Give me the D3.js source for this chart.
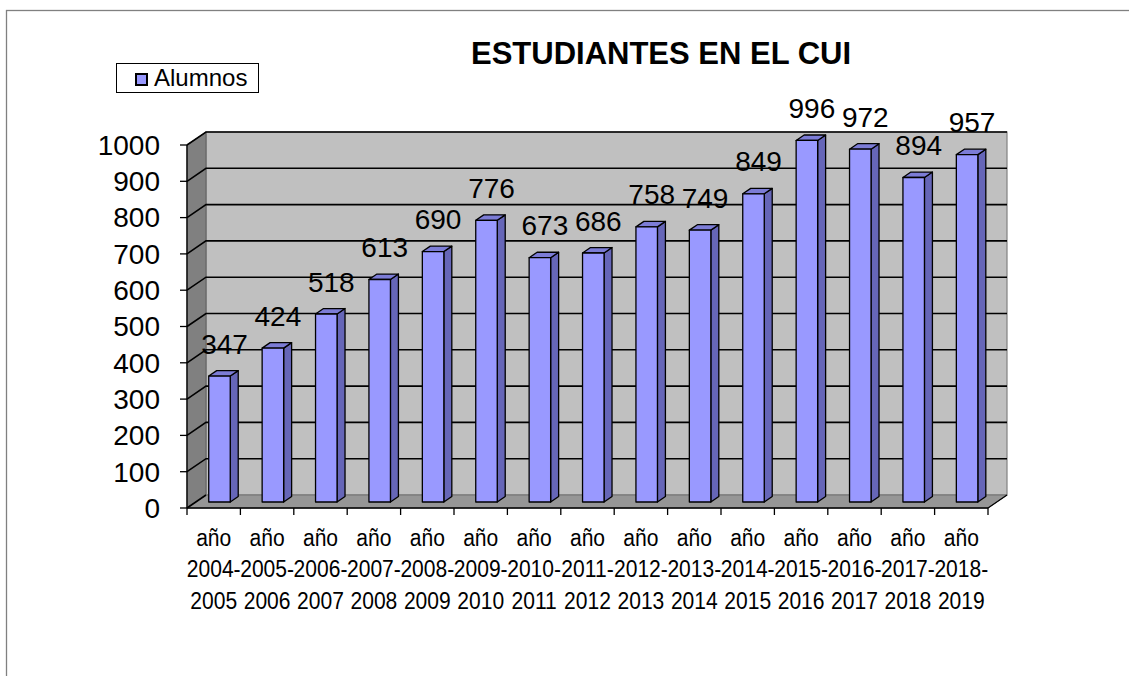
<!DOCTYPE html>
<html>
<head>
<meta charset="utf-8">
<script src="https://cdn.jsdelivr.net/npm/d3@7"></script>
<style>
  html, body { margin: 0; padding: 0; background: #fff; }
  svg { display: block; }
</style>
</head>
<body>
<svg id="chart" width="1129" height="676"></svg>
<script>
// ---- data ----
const categories = [
  ["año", "2004-", "2005"], ["año", "2005-", "2006"], ["año", "2006-", "2007"],
  ["año", "2007-", "2008"], ["año", "2008-", "2009"], ["año", "2009-", "2010"],
  ["año", "2010-", "2011"], ["año", "2011-", "2012"], ["año", "2012-", "2013"],
  ["año", "2013-", "2014"], ["año", "2014-", "2015"], ["año", "2015-", "2016"],
  ["año", "2016-", "2017"], ["año", "2017-", "2018"], ["año", "2018-", "2019"]
];
const alumnos = [347, 424, 518, 613, 690, 776, 673, 686, 758, 749, 849, 996, 972, 894, 957];
const yTicks = [0, 100, 200, 300, 400, 500, 600, 700, 800, 900, 1000];
const seriesName = "Alumnos";
const chartTitle = "ESTUDIANTES EN EL CUI";

// ---- layout ----
const svg = d3.select("#chart");
const X0 = 187, X1 = 988, Y0 = 508, Y1 = 145;
const DX = 19, DY = -13;          // depth offset of the back wall
const F = 0.46, G = 0.42;         // bar front-plane depth, bar depth (fractions)
const keys = categories.map(c => c.join(" "));
const x = d3.scaleBand().domain(keys).range([X0, X1]).padding(0);
const y = d3.scaleLinear().domain([0, 1000]).range([Y0, Y1]);
const step = x.step();
const barW = 21.5;

// outer border
svg.append("rect").attr("x", 6.5).attr("y", 10.5).attr("width", 1200).attr("height", 800)
  .attr("fill", "none").attr("stroke", "#808080").attr("stroke-width", 1.3);

// back wall
svg.append("rect")
  .attr("x", X0 + DX).attr("y", y(1000) + DY)
  .attr("width", X1 - X0).attr("height", y(0) - y(1000))
  .attr("fill", "#C0C0C0").attr("stroke", "#808080").attr("stroke-width", 1.2);

// left wall
svg.append("polygon")
  .attr("points", [[X0, y(0)], [X0, y(1000)], [X0 + DX, y(1000) + DY], [X0 + DX, y(0) + DY]].join(" "))
  .attr("fill", "#808080").attr("stroke", "#606060").attr("stroke-width", 1);

// floor
svg.append("polygon")
  .attr("points", [[X0, y(0)], [X1, y(0)], [X1 + DX, y(0) + DY], [X0 + DX, y(0) + DY]].join(" "))
  .attr("fill", "#969696").attr("stroke", "#707070").attr("stroke-width", 1);

// gridlines
yTicks.forEach(t => {
  const pts = t === 0
    ? [[X0, y(t)], [X0 + DX, y(t) + DY]]
    : [[X0, y(t)], [X0 + DX, y(t) + DY], [X1 + DX, y(t) + DY]];
  svg.append("polyline").attr("points", pts.join(" "))
    .attr("fill", "none").attr("stroke", "#000").attr("stroke-width", 1.6);
});
// floor right edge
svg.append("line").attr("x1", X1).attr("y1", y(0)).attr("x2", X1 + DX).attr("y2", y(0) + DY)
  .attr("stroke", "#000").attr("stroke-width", 1.2);

// bars
const ddx = G * DX, ddy = G * DY;
const bars = svg.append("g");
alumnos.forEach((v, i) => {
  const xl = x(keys[i]) + 13 + F * DX;
  const yb = y(0) + F * DY;
  const yt = y(v) + F * DY;
  const g = bars.append("g").attr("stroke", "#000").attr("stroke-width", 1.3).attr("stroke-linejoin", "round");
  g.append("polygon")
    .attr("points", [[xl + barW, yt], [xl + barW + ddx, yt + ddy], [xl + barW + ddx, yb + ddy], [xl + barW, yb]].join(" "))
    .attr("fill", "#6666B8");
  g.append("polygon")
    .attr("points", [[xl, yt], [xl + ddx, yt + ddy], [xl + barW + ddx, yt + ddy], [xl + barW, yt]].join(" "))
    .attr("fill", "#7C7CD6");
  g.append("rect").attr("x", xl).attr("y", yt).attr("width", barW).attr("height", yb - yt)
    .attr("fill", "#9999FF");
});

// value labels
svg.append("g").selectAll("text").data(alumnos).join("text")
  .attr("x", (v, i) => x(keys[i]) + 13 + F * DX + barW / 2 + 5)
  .attr("y", v => y(v) + F * DY + ddy - 17)
  .attr("text-anchor", "middle")
  .attr("font-family", "'Liberation Sans', Arial, sans-serif")
  .attr("font-size", 28)
  .attr("fill", "#000")
  .text(v => v);

// y axis
const yAxis = svg.append("g");
yAxis.append("line").attr("x1", X0).attr("y1", y(0)).attr("x2", X0).attr("y2", y(1000))
  .attr("stroke", "#000").attr("stroke-width", 1.3);
yTicks.forEach(t => {
  yAxis.append("line").attr("x1", X0 - 7).attr("x2", X0).attr("y1", y(t)).attr("y2", y(t))
    .attr("stroke", "#000").attr("stroke-width", 1.3);
  yAxis.append("text").attr("x", 160).attr("y", y(t)).attr("dy", "0.35em")
    .attr("text-anchor", "end")
    .attr("font-family", "'Liberation Sans', Arial, sans-serif")
    .attr("font-size", 28).attr("fill", "#000").text(t);
});

// x axis
const xAxis = svg.append("g");
xAxis.append("line").attr("x1", X0).attr("x2", X1).attr("y1", y(0)).attr("y2", y(0))
  .attr("stroke", "#000").attr("stroke-width", 1.3);
d3.range(keys.length + 1).forEach(i => {
  const xx = X0 + i * step;
  xAxis.append("line").attr("x1", xx).attr("x2", xx).attr("y1", y(0)).attr("y2", y(0) + 7)
    .attr("stroke", "#000").attr("stroke-width", 1.3);
});
categories.forEach((c, i) => {
  const cx = x(keys[i]) + step / 2;
  const t = xAxis.append("text")
    .attr("transform", `translate(${cx},0) scale(0.86,1)`)
    .attr("text-anchor", "middle")
    .attr("font-family", "'Liberation Sans', Arial, sans-serif")
    .attr("font-size", 24.5).attr("fill", "#000");
  c.forEach((line, j) => {
    t.append("tspan").attr("x", 0).attr("y", 546 + j * 31.5).text(line);
  });
});

// title
svg.append("text").attr("x", 661).attr("y", 64).attr("text-anchor", "middle")
  .attr("font-family", "'Liberation Sans', Arial, sans-serif")
  .attr("font-weight", "bold").attr("font-size", 31).attr("fill", "#000")
  .text(chartTitle);

// legend
const lg = svg.append("g");
lg.append("rect").attr("x", 116.5).attr("y", 63.5).attr("width", 142).attr("height", 29)
  .attr("fill", "#fff").attr("stroke", "#000").attr("stroke-width", 1);
lg.append("rect").attr("x", 136).attr("y", 74).attr("width", 11).attr("height", 11)
  .attr("fill", "#9999FF").attr("stroke", "#000").attr("stroke-width", 2);
lg.append("text").attr("x", 154).attr("y", 86)
  .attr("font-family", "'Liberation Sans', Arial, sans-serif")
  .attr("font-size", 24).attr("fill", "#000").text(seriesName);
</script>
</body>
</html>
